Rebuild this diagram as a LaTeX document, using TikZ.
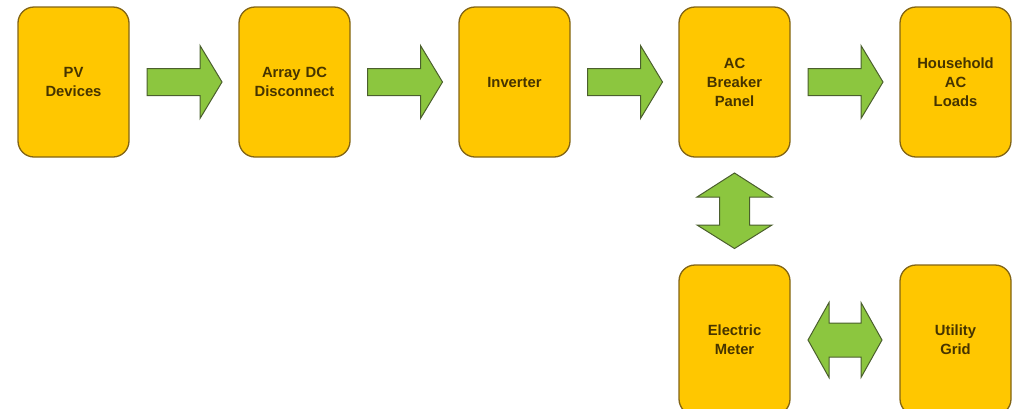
\documentclass[tikz,border=0pt]{standalone}
\usepackage{fontspec}
\setmainfont{Liberation Sans}
\usetikzlibrary{calc}

\definecolor{boxfill}{RGB}{255,199,0}
\definecolor{boxline}{RGB}{130,100,20}
\definecolor{boxtext}{RGB}{70,52,0}
\definecolor{arrowfill}{RGB}{140,198,63}
\definecolor{arrowline}{RGB}{75,95,45}

\begin{document}
\begin{tikzpicture}[x=1pt, y=-1pt,
  unit/.style={draw=boxline, line width=1.3pt, fill=boxfill, rounded corners=16pt,
    minimum width=111pt, minimum height=150pt, text width=105pt, align=center,
    inner sep=0pt, text=boxtext, font=\fontsize{14.8}{19}\selectfont\bfseries},
  flow/.style={draw=arrowline, line width=1pt, fill=arrowfill, line join=miter}]
  \useasboundingbox (0,0) rectangle (1015,408);
  \clip (0,0) rectangle (1015,408);

  % top row
  \node[unit] (pv)   at (73.5, 82)  {PV\\Devices};
  \node[unit] (dc)   at (294.5, 82) {Array DC\\Disconnect};
  \node[unit] (inv)  at (514.5, 82) {Inverter};
  \node[unit] (acp)  at (734.5, 82) {AC\\Breaker\\Panel};
  \node[unit] (load) at (955.5, 82) {Household\\AC\\Loads};

  % bottom row
  \node[unit] (meter) at (734.5, 340) {Electric\\Meter};
  \node[unit] (grid)  at (955.5, 340) {Utility\\Grid};

  % one way arrows
  \foreach \a/\b in {pv/dc, dc/inv, inv/acp, acp/load}
    \draw[flow, shift={($(\a.east)!0.5!(\b.west)$)}]
      (-37,-13.5) -- (16,-13.5) -- (16,-36.5) -- (38,0) -- (16,36.5)
      -- (16,13.5) -- (-37,13.5) -- cycle;

  % two way arrows
  \draw[flow, shift={($(acp.south)!0.5!(meter.north)$)}]
    (0,-38) -- (37.5,-14) -- (15,-14) -- (15,14) -- (37.5,14) -- (0,37.5)
    -- (-37.5,14) -- (-15,14) -- (-15,-14) -- (-37.5,-14) -- cycle;
  \draw[flow, shift={($(meter.east)!0.5!(grid.west)$)}]
    (-37,0) -- (-16,-37.5) -- (-16,-17) -- (16,-17) -- (16,-37.5) -- (37,0)
    -- (16,37.5) -- (16,17) -- (-16,17) -- (-16,37.5) -- cycle;
\end{tikzpicture}
\end{document}
